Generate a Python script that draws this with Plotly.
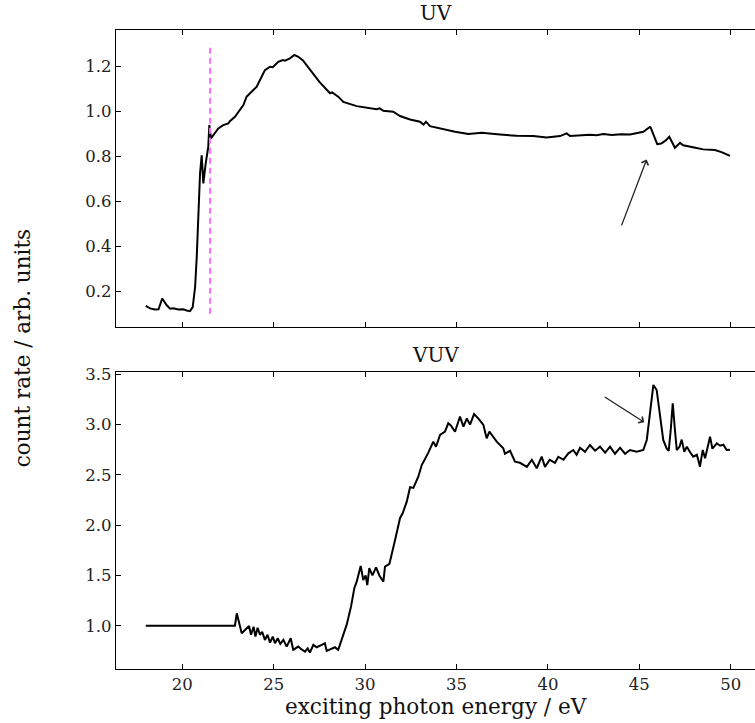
import plotly.graph_objects as go

# ---- data ----
uv_energy = [18.0, 18.24, 18.5, 18.7, 18.9, 19.15, 19.33, 19.5, 19.78, 20.05, 20.24, 20.42, 20.57,
             20.7, 20.79, 20.88, 20.97, 21.06, 21.15, 21.28, 21.42, 21.48, 21.57, 21.7, 21.97,
             22.24, 22.52, 22.6, 22.88, 23.34, 23.52, 24.07, 24.52, 24.8, 24.95, 25.25, 25.5,
             25.62, 25.89, 26.13, 26.35, 26.6, 27.08, 27.5, 28.08, 28.2, 28.53, 28.81, 29.54,
             30.09, 30.63, 30.8, 31.0, 31.54, 31.91, 32.46, 33.0, 33.2, 33.33, 33.55, 34.28,
             34.92, 35.65, 36.38, 37.38, 38.29, 39.2, 39.93, 40.66, 41.03, 41.21, 41.76, 42.3,
             42.67, 43.03, 43.5, 44.0, 44.49, 44.86, 45.22, 45.58, 45.62, 45.98, 46.2, 46.45,
             46.64, 46.95, 47.23, 47.4, 47.59, 48.0, 48.5, 49.14, 49.5, 49.96]
uv_counts = [0.135, 0.124, 0.119, 0.12, 0.168, 0.138, 0.123, 0.125, 0.119, 0.12, 0.115, 0.112, 0.13,
             0.219, 0.352, 0.545, 0.723, 0.804, 0.679, 0.768, 0.841, 0.938, 0.879, 0.893, 0.923,
             0.938, 0.945, 0.955, 0.975, 1.027, 1.064, 1.108, 1.182, 1.197, 1.195, 1.219, 1.227,
             1.224, 1.234, 1.249, 1.241, 1.225, 1.175, 1.13, 1.079, 1.083, 1.064, 1.041, 1.022,
             1.015, 1.008, 1.012, 1.001, 0.997, 0.978, 0.963, 0.953, 0.94, 0.953, 0.933, 0.919,
             0.908, 0.898, 0.904, 0.896, 0.89, 0.889, 0.883, 0.889, 0.901, 0.889, 0.893, 0.895,
             0.893, 0.898, 0.894, 0.897, 0.896, 0.901, 0.908, 0.93, 0.928, 0.853, 0.856, 0.87,
             0.886, 0.837, 0.859, 0.848, 0.844, 0.838, 0.83, 0.827, 0.818, 0.801]

vuv_energy = [18.0, 22.88, 22.98, 23.25, 23.43, 23.65, 23.76, 23.9, 24.0, 24.12, 24.25, 24.37,
              24.52, 24.66, 24.8, 24.95, 25.07, 25.22, 25.36, 25.53, 25.71, 25.93, 26.07, 26.34,
              26.52, 26.71, 26.86, 26.98, 27.17, 27.35, 27.63, 27.8, 27.9, 28.17, 28.35, 28.53,
              28.81, 28.99, 29.23, 29.41, 29.54, 29.76, 29.9, 30.03, 30.12, 30.23, 30.4, 30.6,
              30.78, 31.0, 31.09, 31.33, 31.64, 31.91, 32.06, 32.28, 32.46, 32.64, 32.91, 33.1,
              33.46, 33.73, 33.88, 34.1, 34.37, 34.55, 34.7, 34.92, 35.19, 35.38, 35.56, 35.74,
              35.96, 36.2, 36.47, 36.65, 36.8, 36.98, 37.2, 37.56, 37.65, 37.93, 38.2, 38.47,
              38.85, 39.12, 39.39, 39.66, 39.84, 40.1, 40.39, 40.57, 40.85, 41.12, 41.39, 41.57,
              41.76, 42.03, 42.3, 42.58, 42.85, 43.13, 43.4, 43.67, 43.95, 44.22, 44.49, 44.86,
              45.22, 45.41, 45.58, 45.77, 45.95, 46.13, 46.31, 46.5, 46.61, 46.72, 46.83, 46.95,
              47.05, 47.2, 47.32, 47.46, 47.6, 47.8, 47.95, 48.15, 48.32, 48.47, 48.6, 48.87,
              49.0, 49.24, 49.42, 49.6, 49.78, 49.96]
vuv_counts = [1.0, 1.0, 1.124, 0.926, 0.958, 0.998, 0.91, 0.99, 0.892, 0.98, 0.91, 0.94,
              0.859, 0.91, 0.832, 0.892, 0.826, 0.876, 0.82, 0.86, 0.793, 0.876, 0.76, 0.793,
              0.766, 0.743, 0.776, 0.733, 0.81, 0.786, 0.81, 0.826, 0.75, 0.776, 0.786, 0.76,
              0.909, 1.008, 1.19, 1.373, 1.438, 1.594, 1.455, 1.5, 1.405, 1.572, 1.5, 1.581,
              1.5, 1.438, 1.588, 1.615, 1.853, 2.069, 2.12, 2.234, 2.377, 2.37, 2.482, 2.598,
              2.721, 2.83, 2.78, 2.897, 2.93, 3.013, 2.99, 2.929, 3.079, 2.98, 3.06, 3.0,
              3.105, 3.06, 2.996, 2.864, 2.93, 2.88, 2.83, 2.764, 2.71, 2.74, 2.631, 2.62,
              2.58, 2.65, 2.566, 2.681, 2.58, 2.65, 2.62, 2.68, 2.65, 2.714, 2.747, 2.7,
              2.77, 2.73, 2.797, 2.74, 2.78, 2.72, 2.78, 2.71, 2.77, 2.71, 2.747, 2.73,
              2.747, 2.847, 3.112, 3.394, 3.344, 3.112, 2.847, 2.76, 2.74, 2.946, 3.212, 2.946,
              2.747, 2.78, 2.85, 2.73, 2.78, 2.72, 2.681, 2.7, 2.582, 2.747, 2.665, 2.88,
              2.76, 2.814, 2.79, 2.8, 2.747, 2.75]

edge_energy = [21.52, 21.52]
edge_counts = [0.10, 1.30]

uv_arrow = {"tail": (44.0, 0.486), "head": (45.4, 0.785)}
vuv_arrow = {"tail": (43.03, 3.284), "head": (45.27, 3.023)}

x_ticks = [20, 25, 30, 35, 40, 45, 50]
uv_ticks = [0.2, 0.4, 0.6, 0.8, 1.0, 1.2]
vuv_ticks = [1.0, 1.5, 2.0, 2.5, 3.0, 3.5]

FONT = "DejaVu Serif"
XR = [16.373, 51.33]

fig = go.Figure()
fig.add_trace(go.Scatter(x=uv_energy, y=uv_counts, mode="lines",
                         line=dict(color="black", width=2), xaxis="x", yaxis="y",
                         showlegend=False, hoverinfo="skip"))
fig.add_trace(go.Scatter(x=edge_energy, y=edge_counts, mode="lines",
                         line=dict(color="#ff6cff", width=2, dash="6px,4px"), xaxis="x", yaxis="y",
                         showlegend=False, hoverinfo="skip"))
fig.add_trace(go.Scatter(x=vuv_energy, y=vuv_counts, mode="lines",
                         line=dict(color="black", width=2), xaxis="x2", yaxis="y2",
                         showlegend=False, hoverinfo="skip"))

axis_common = dict(showline=True, linecolor="black", linewidth=1.2, ticks="inside",
                   ticklen=5, tickcolor="black", showgrid=False, zeroline=False,
                   tickfont=dict(family=FONT, size=16.5, color="#222"))

fig.update_layout(
    width=755, height=723,
    margin=dict(l=116, r=0, t=30, b=54),
    paper_bgcolor="white", plot_bgcolor="white",
    xaxis=dict(domain=[0, 1], anchor="y", range=XR, tickvals=x_ticks, showticklabels=False,
               mirror="ticks", **axis_common),
    yaxis=dict(domain=[0.5347, 1], anchor="x", range=[0.04, 1.36], tickvals=uv_ticks,
               ticktext=[f"{v:.1f}" for v in uv_ticks], **axis_common),
    xaxis2=dict(domain=[0, 1], anchor="y2", range=XR, tickvals=x_ticks,
                ticktext=[str(v) for v in x_ticks], mirror="ticks", **axis_common),
    yaxis2=dict(domain=[0, 0.4653], anchor="x2", range=[0.57, 3.526], tickvals=vuv_ticks,
                ticktext=[f"{v:.1f}" for v in vuv_ticks], **axis_common),
)

annotations = [
    dict(text="UV", xref="paper", yref="paper", x=0.5, y=1, xanchor="center", yanchor="bottom",
         yshift=3, showarrow=False, font=dict(family=FONT, size=20, color="#111")),
    dict(text="VUV", xref="paper", yref="paper", x=0.5, y=0.4653, xanchor="center",
         yanchor="bottom", yshift=3, showarrow=False, font=dict(family=FONT, size=20, color="#111")),
    dict(text="exciting photon energy / eV", xref="paper", yref="paper", x=0.5, y=0,
         xanchor="center", yanchor="top", yshift=-23, showarrow=False,
         font=dict(family=FONT, size=21.5, color="#111")),
    dict(text="count rate / arb. units", xref="paper", yref="paper", x=0, y=0.502,
         xanchor="center", yanchor="middle", xshift=-94, textangle=-90, showarrow=False,
         font=dict(family=FONT, size=21.5, color="#111")),
]
for ax_name, yref, arr in [("x", "y", uv_arrow), ("x2", "y2", vuv_arrow)]:
    annotations.append(dict(text="", x=arr["head"][0], y=arr["head"][1], xref=ax_name, yref=yref,
                            ax=arr["tail"][0], ay=arr["tail"][1], axref=ax_name, ayref=yref,
                            showarrow=True, arrowhead=4, arrowsize=1.1, arrowwidth=1.3,
                            arrowcolor="#222", standoff=0, startstandoff=0))
fig.update_layout(annotations=annotations)

fig.write_html("out.html")
